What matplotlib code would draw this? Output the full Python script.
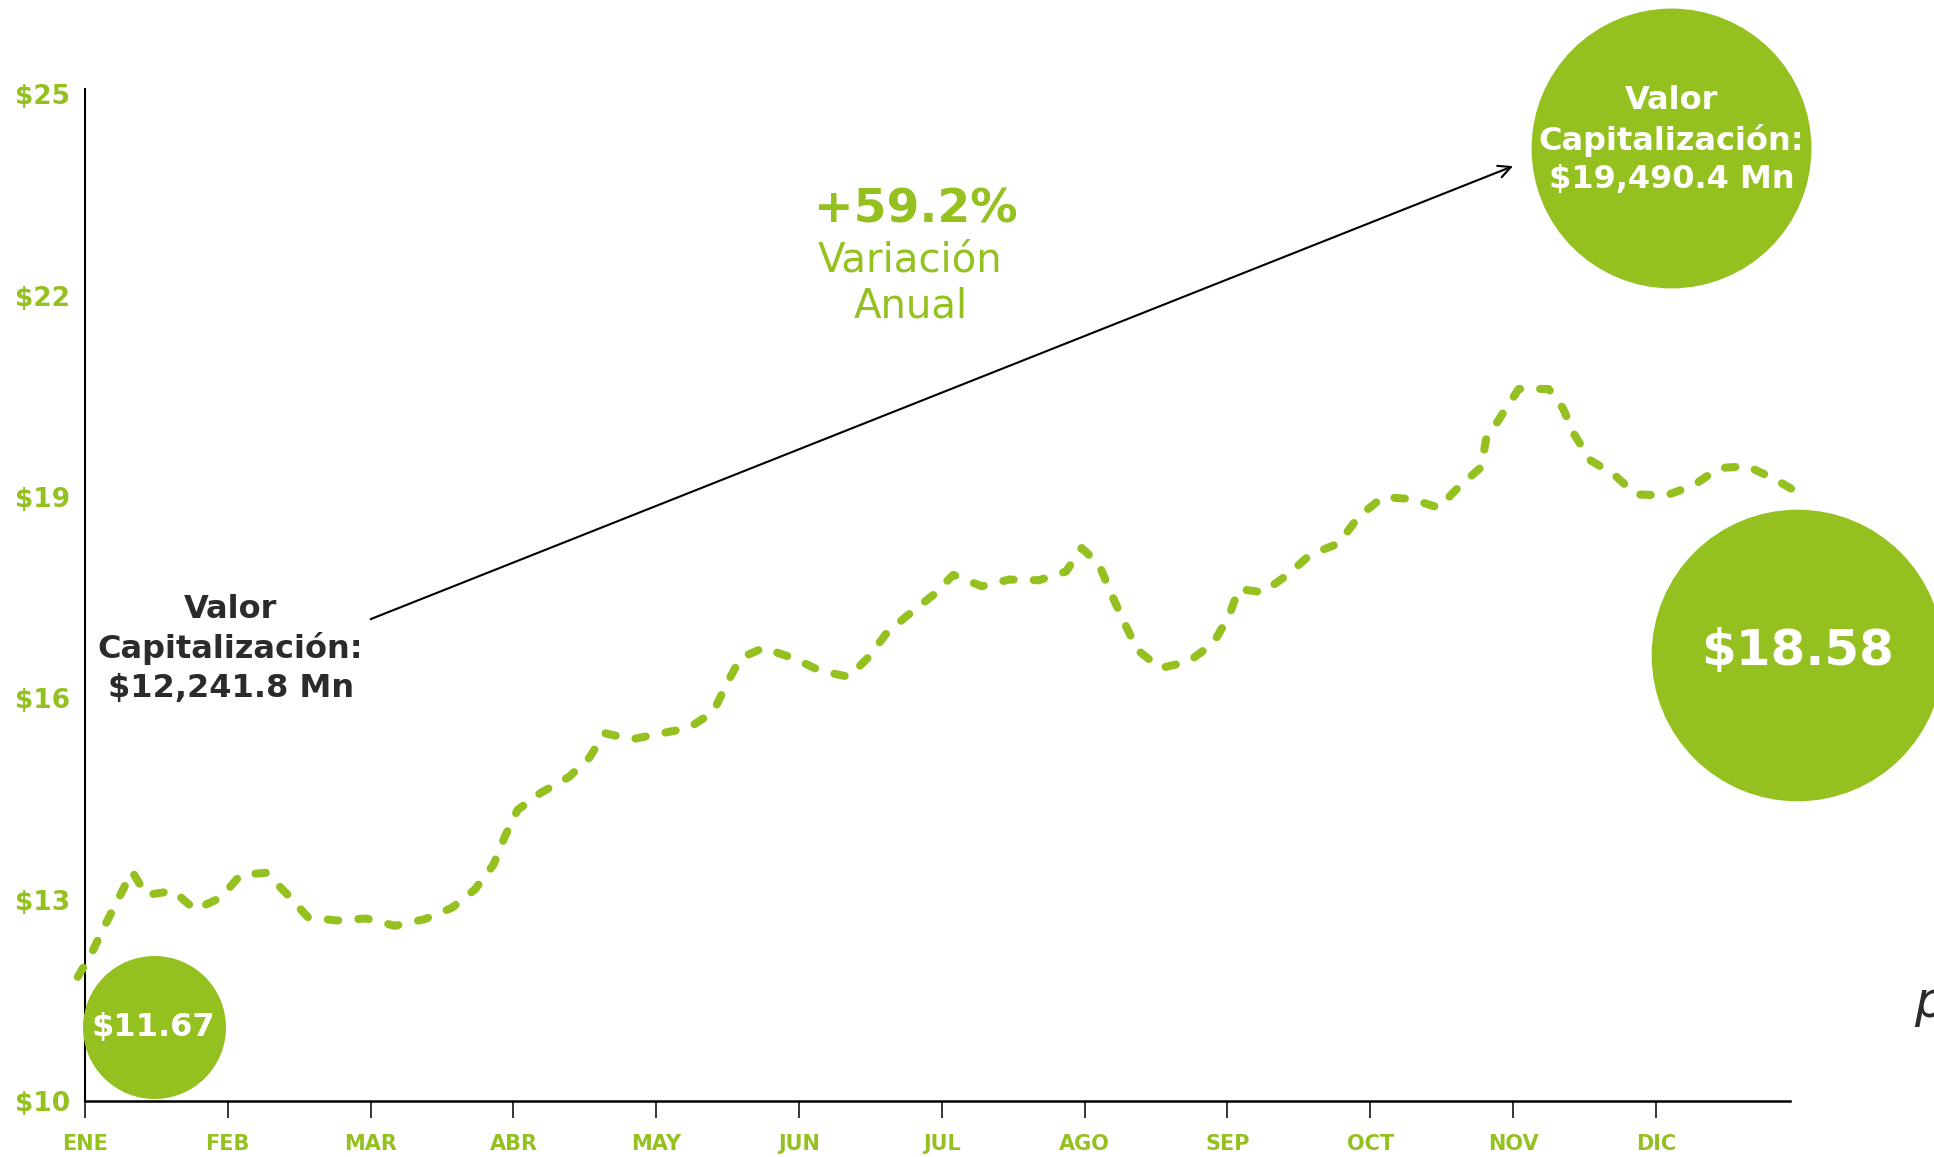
import matplotlib.pyplot as plt
import numpy as np

# Datos (mes como fracción, valor de la acción en $)
mes = [-0.05, 0.05, 0.14, 0.24, 0.33, 0.43, 0.62, 0.77, 0.95, 1.09,
       1.27, 1.42, 1.56, 1.76, 1.97, 2.17, 2.38, 2.57, 2.73, 2.86,
       2.94, 3.03, 3.19, 3.39, 3.53, 3.64, 3.83, 4.04, 4.23, 4.40,
       4.49, 4.59, 4.75, 4.96, 5.15, 5.35, 5.49, 5.62, 5.78, 5.94,
       6.08, 6.28, 6.47, 6.68, 6.87, 6.98, 7.10, 7.19, 7.28, 7.37,
       7.53, 7.73, 7.90, 8.01, 8.08, 8.25, 8.42, 8.58, 8.78, 8.92,
       9.09, 9.29, 9.48, 9.62, 9.78, 9.81, 9.93, 10.04, 10.25, 10.35,
       10.43, 10.54, 10.71, 10.86, 11.07, 11.27, 11.44, 11.64, 11.83, 12.00]
precio = [11.85, 12.22, 12.62, 13.04, 13.42, 13.07, 13.13, 12.85, 13.03, 13.37,
          13.40, 13.07, 12.74, 12.69, 12.72, 12.61, 12.71, 12.88, 13.15, 13.52,
          13.94, 14.34, 14.59, 14.83, 15.11, 15.48, 15.39, 15.48, 15.56, 15.80,
          16.20, 16.60, 16.75, 16.60, 16.41, 16.32, 16.62, 16.99, 17.27, 17.54,
          17.84, 17.67, 17.77, 17.76, 17.89, 18.24, 18.00, 17.54, 17.12, 16.72,
          16.45, 16.55, 16.82, 17.22, 17.63, 17.58, 17.84, 18.14, 18.31, 18.71,
          19.00, 18.97, 18.84, 19.15, 19.45, 19.85, 20.25, 20.61, 20.61, 20.32,
          19.93, 19.55, 19.33, 19.04, 19.02, 19.18, 19.43, 19.46, 19.27, 19.06]

meses = ['ENE', 'FEB', 'MAR', 'ABR', 'MAY', 'JUN',
         'JUL', 'AGO', 'SEP', 'OCT', 'NOV', 'DIC']
y_ticks = [10, 13, 16, 19, 22, 25]

precio_inicial = 11.67
precio_final = 18.58
cap_inicial = '12,241.8'
cap_final = '19,490.4'
variacion = 59.2

verde = '#94C11F'
gris = '#2b2b2b'

fig = plt.figure(figsize=(19.34, 11.57), dpi=100)
ax = fig.add_axes([0.04395, 0.0484, 0.8816, 0.8747])

# Línea punteada del precio
ax.plot(mes, precio, color=verde, lw=5.8, dashes=(1.3, 2.5),
        dash_capstyle='round', solid_capstyle='round', clip_on=False, zorder=3)

# Ejes
ax.set_xlim(0, 11.94)
ax.set_ylim(10, 25.08)
ax.spines['top'].set_visible(False)
ax.spines['right'].set_visible(False)
ax.spines['left'].set_linewidth(1.5)
ax.spines['bottom'].set_linewidth(1.8)

ax.set_xticks(np.arange(len(meses)))
ax.set_xticklabels(meses, color=verde, fontsize=15, fontweight='bold')
ax.tick_params(axis='x', length=12, width=1.1, pad=12)

ax.set_yticks(y_ticks)
ax.set_yticklabels(['${}'.format(v) for v in y_ticks], color=verde,
                   fontsize=19, fontweight='bold')
ax.tick_params(axis='y', length=0, pad=11)

# Círculos de precio inicial y final
ax.scatter([0.48], [11.10], s=10600, color=verde, zorder=4, clip_on=False, linewidths=0)
ax.text(0.48, 11.10, '${:.2f}'.format(precio_inicial), color='white', fontsize=23,
        fontweight='bold', ha='center', va='center', zorder=5)

ax.scatter([11.99], [16.65], s=44100, color=verde, zorder=4, clip_on=False, linewidths=0)
ax.text(11.99, 16.71, '${:.2f}'.format(precio_final), color='white', fontsize=36,
        fontweight='bold', ha='center', va='center', zorder=5)

# Círculo de capitalización final
ax.scatter([11.11], [24.20], s=40600, color=verde, zorder=4, clip_on=False, linewidths=0)
ax.text(11.11, 24.32, 'Valor\nCapitalización:\n${} Mn'.format(cap_final), color='white',
        fontsize=23, fontweight='bold', ha='center', va='center', linespacing=1.3,
        multialignment='center', zorder=5)

# Capitalización inicial
ax.text(1.02, 16.74, 'Valor\nCapitalización:\n${} Mn'.format(cap_inicial), color=gris,
        fontsize=23, fontweight='bold', ha='center', va='center', linespacing=1.3,
        multialignment='center', zorder=5)

# Flecha
ax.annotate('', xy=(10.0, 23.93), xytext=(2.0, 17.18),
            arrowprops=dict(arrowstyle='->', color='black', lw=1.5,
                            mutation_scale=22, shrinkA=0, shrinkB=0),
            annotation_clip=False)

# Variación anual
ax.text(5.82, 23.27, '+{}%'.format(variacion), color=verde, fontsize=34,
        fontweight='bold', ha='center', va='center')
ax.text(5.78, 22.52, 'Variación', color=verde, fontsize=29, ha='center', va='center')
ax.text(5.78, 21.84, 'Anual', color=verde, fontsize=29, ha='center', va='center')

# Texto cortado en el borde derecho (como en el original)
fig.text(0.9895, 0.133, 'p', color=gris, fontsize=36, fontstyle='italic',
         fontweight='light', ha='left', va='center')

fig.savefig('out.png', dpi=100)
